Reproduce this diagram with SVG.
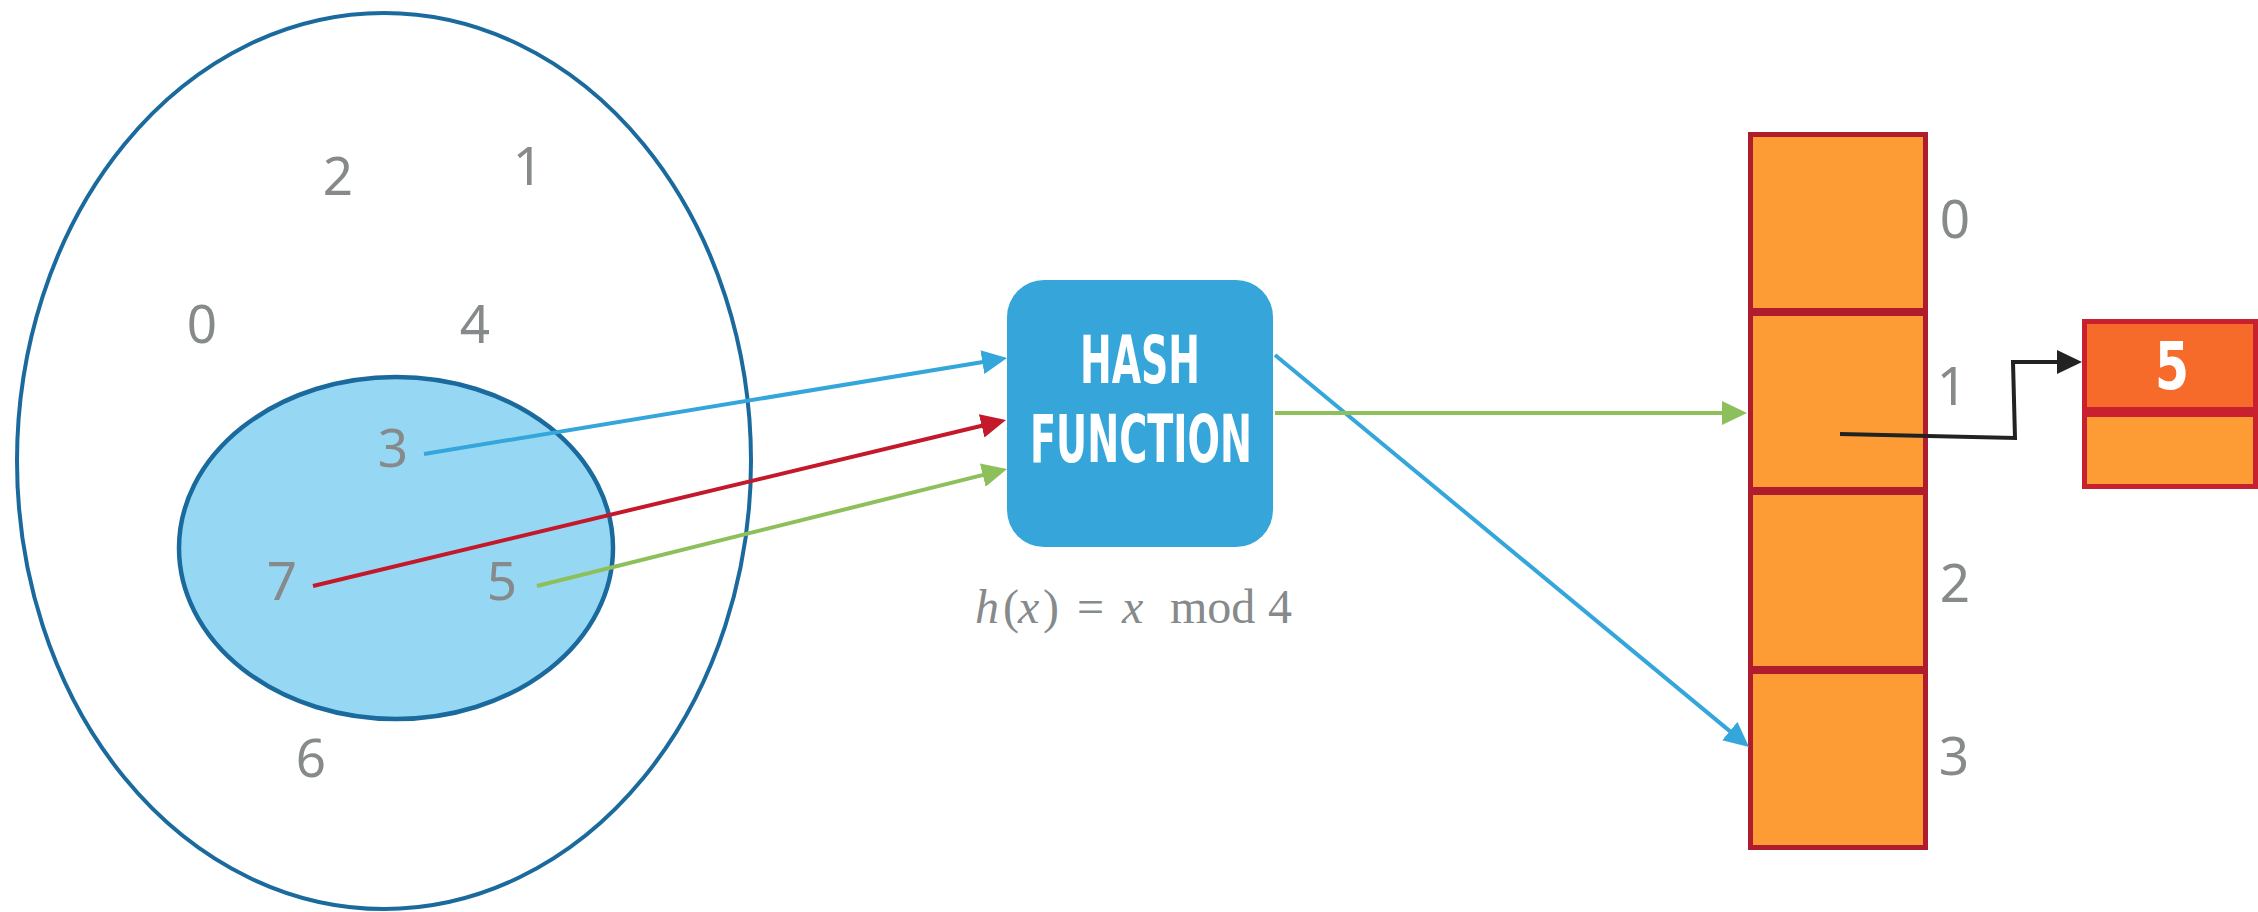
<svg xmlns="http://www.w3.org/2000/svg" width="2258" height="912" viewBox="0 0 2258 912">
<style>
.num{font-family:"Noto Sans","Liberation Sans",sans-serif;font-size:53px;fill:#868A8B;text-anchor:middle}
.cond{font-family:"DejaVu Sans Condensed","Liberation Sans Narrow","DejaVu Sans",sans-serif;font-weight:bold;font-size:66px;fill:#FFFFFF;text-anchor:middle}
.math{font-family:"Liberation Serif",serif;font-size:48px;fill:#868A8B}
.it{font-style:italic}
.bucket{fill:#FD9C35;stroke:#AE1C2E;stroke-width:5}
.conn{fill:none;stroke-width:4}
</style>
<defs>
<marker id="aBlue" markerUnits="userSpaceOnUse" markerWidth="25" markerHeight="24" refX="13" refY="12" orient="auto"><path d="M0,0 L25,12 L0,24 Z" fill="#35A6DB"/></marker>
<marker id="aRed" markerUnits="userSpaceOnUse" markerWidth="25" markerHeight="24" refX="13" refY="12" orient="auto"><path d="M0,0 L25,12 L0,24 Z" fill="#C4182B"/></marker>
<marker id="aGreen" markerUnits="userSpaceOnUse" markerWidth="25" markerHeight="24" refX="13" refY="12" orient="auto"><path d="M0,0 L25,12 L0,24 Z" fill="#8DC05B"/></marker>
<marker id="aBlack" markerUnits="userSpaceOnUse" markerWidth="25" markerHeight="24" refX="13" refY="12" orient="auto"><path d="M0,0 L25,12 L0,24 Z" fill="#222222"/></marker>
</defs>
<rect width="2258" height="912" fill="#FFFFFF"/>

<g id="universe">
<ellipse cx="384" cy="461" rx="367" ry="448" fill="none" stroke="#1B6A9E" stroke-width="4"/>
<text class="num" x="338" y="195">2</text>
<text class="num" x="528" y="185">1</text>
<text class="num" x="202" y="343">0</text>
<text class="num" x="475" y="343">4</text>
<text class="num" x="311" y="777">6</text>
</g>

<g id="keys">
<ellipse cx="396" cy="548" rx="217" ry="171" fill="#96D8F4" stroke="#1B6A9E" stroke-width="4.5"/>
<text class="num" x="393" y="467">3</text>
<text class="num" x="282" y="600">7</text>
<text class="num" x="502" y="600">5</text>
</g>

<g id="hash-function">
<rect x="1007" y="280" width="266" height="267" rx="37" ry="37" fill="#35A5DA"/>
<text class="cond" x="1140" y="383" textLength="120" lengthAdjust="spacingAndGlyphs">HASH</text>
<text class="cond" x="1141" y="462" textLength="222" lengthAdjust="spacingAndGlyphs">FUNCTION</text>
<text class="math" y="623"><tspan class="it" x="975">h</tspan><tspan x="1003">(</tspan><tspan class="it" x="1018">x</tspan><tspan x="1043">)</tspan><tspan x="1077">=</tspan><tspan class="it" x="1122">x</tspan><tspan x="1170">mod</tspan><tspan x="1268">4</tspan></text>
</g>

<g id="table">
<rect class="bucket" x="1750.5" y="134.5" width="175" height="176"/>
<rect class="bucket" x="1750.5" y="313.5" width="175" height="176"/>
<rect class="bucket" x="1750.5" y="492.5" width="175" height="176"/>
<rect class="bucket" x="1750.5" y="671.5" width="175" height="176"/>
<text class="num" x="1955" y="238">0</text>
<text class="num" x="1952" y="405">1</text>
<text class="num" x="1955" y="602">2</text>
<text class="num" x="1954" y="775">3</text>
</g>

<g id="list-node">
<rect x="2084.5" y="321.5" width="171" height="88" fill="#F76B2A" stroke="#C8202F" stroke-width="5"/>
<rect x="2084.5" y="414.5" width="171" height="72" fill="#FD9C35" stroke="#C8202F" stroke-width="5"/>
<text class="cond" x="2172" y="389" font-size="72" textLength="34" lengthAdjust="spacingAndGlyphs">5</text>
</g>

<g id="connectors">
<line class="conn" x1="424" y1="454" x2="995.2" y2="360" stroke="#35A6DB" marker-end="url(#aBlue)"/>
<line class="conn" x1="313" y1="586" x2="994.3" y2="422.8" stroke="#C4182B" marker-end="url(#aRed)"/>
<line class="conn" x1="537" y1="586" x2="995.4" y2="471.9" stroke="#8DC05B" marker-end="url(#aGreen)"/>
<line class="conn" x1="1275" y1="355" x2="1739.8" y2="739.4" stroke="#35A6DB" marker-end="url(#aBlue)"/>
<line class="conn" x1="1275" y1="413" x2="1735" y2="413" stroke="#8DC05B" marker-end="url(#aGreen)"/>
<polyline class="conn" points="1840,434 2015,438 2013,362 2070,362" stroke="#222222" marker-end="url(#aBlack)"/>
</g>
</svg>
